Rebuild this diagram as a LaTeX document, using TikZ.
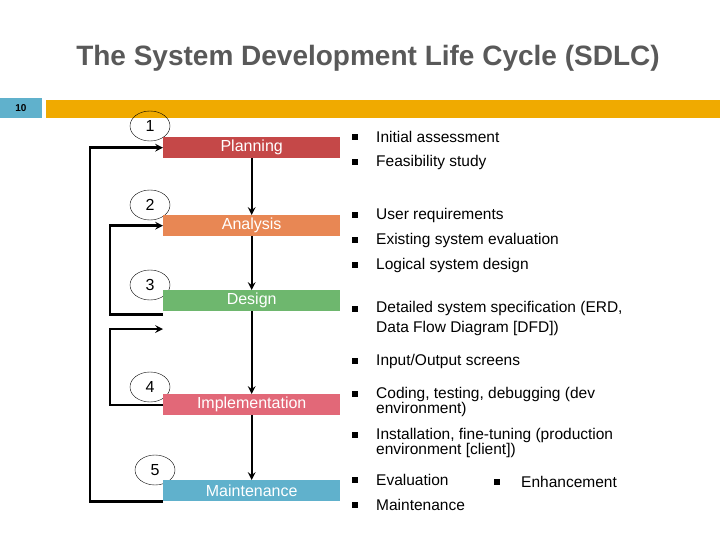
\documentclass[tikz,border=0pt]{standalone}
\usepackage{fontspec}
\setmainfont{Liberation Sans}
\usetikzlibrary{positioning, shapes.geometric}
\definecolor{planc}{RGB}{197,72,72}
\definecolor{analc}{RGB}{232,135,84}
\definecolor{desic}{RGB}{110,183,110}
\definecolor{implc}{RGB}{226,104,120}
\definecolor{mainc}{RGB}{96,177,204}
\definecolor{barc}{RGB}{240,170,0}
\begin{document}
\begin{tikzpicture}[x=1pt, y=-1pt, >=stealth, phase/.style={
		% The shape:
		rectangle, anchor=north west,
		% The size:
		minimum width=177pt, minimum height=21pt,
		% The text
		text=white, font=\fontsize{16}{18}\selectfont, inner sep=0pt},
	num/.style={ellipse, draw=black, minimum width=40pt, minimum height=30pt, inner sep=0pt,
		font=\fontsize{16}{18}\selectfont},
	bul/.style={rectangle, fill=black, minimum size=6pt, inner sep=0pt},
	item/.style={anchor=west, align=left, font=\fontsize{15.5}{15}\selectfont, inner sep=0pt},
	flow/.style={->, line width=2.4pt}]
    \useasboundingbox (0,0) rectangle (720,540);
    \node [font=\bfseries\fontsize{28}{32}\selectfont, text=black!65] (title) at (368,58) {The System Development Life Cycle (SDLC)};
    \fill [mainc] (0,98) rectangle (42,118);
    \node [font=\bfseries\fontsize{10}{12}\selectfont] (slide) at (21,108) {10};
    \fill [barc] (46,100) rectangle (720,118);
    % The numbers
    \node [num] (n1) at (150,126) {1};
    \node [num] (n2) at (150,205) {2};
    \node [num] (n3) at (150,285) {3};
    \node [num] (n4) at (150,387) {4};
    \node [num] (n5) at (155,470) {5};
    % The phases
    \node [phase, fill=planc] (plan) at (163,137) {Planning};
    \node [phase, fill=analc] (anal) at (163,215) {Analysis};
    \node [phase, fill=desic] (desi) at (163,290) {Design};
    \node [phase, fill=implc] (impl) at (163,394) {Implementation};
    \node [phase, fill=mainc] (main) at (163,480) {Maintenance};
    % The arrows
    \draw [flow] (plan.south) -- (anal.north);
    \draw [flow] (anal.south) -- (desi.north);
    \draw [flow] (desi.south) -- (impl.north);
    \draw [flow] (impl.south) -- (main.north);
    \draw [flow] (main.south west) -- ++(-73,0) |- (plan.west);
    \draw [flow] (desi.south west) ++(0,3) -- ++(-53,0) |- (anal.west);
    \coordinate (back) at (163,329);
    \draw [flow] (impl.west) -- ++(-53,0) |- (back);
    % The bullets
    \foreach \y/\t in {137/Initial assessment, 162/Feasibility study, 215/User requirements,
      240/Existing system evaluation, 265/Logical system design, 361/Input\slash Output screens,
      505/Maintenance} {
      \node [bul] at (355,\y) {};
      \node [item] at (376,\y) {\t};
    }
    \node [bul] at (355,309) {};
    \node [item, anchor=north west] at (376,301) {Detailed system specification (ERD,\\[5pt]Data Flow Diagram [DFD])};
    \node [bul] at (355,394) {};
    \node [item, anchor=north west] at (376,387) {Coding, testing, debugging (dev\\environment)};
    \node [bul] at (355,435) {};
    \node [item, anchor=north west] at (376,428) {Installation, fine-tuning (production\\environment [client])};
    \node [bul] at (355,480) {};
    \node [item] at (376,480) {Evaluation};
    \node [bul] at (497,482) {};
    \node [item] at (521,482) {Enhancement};
\end{tikzpicture}
\end{document}
